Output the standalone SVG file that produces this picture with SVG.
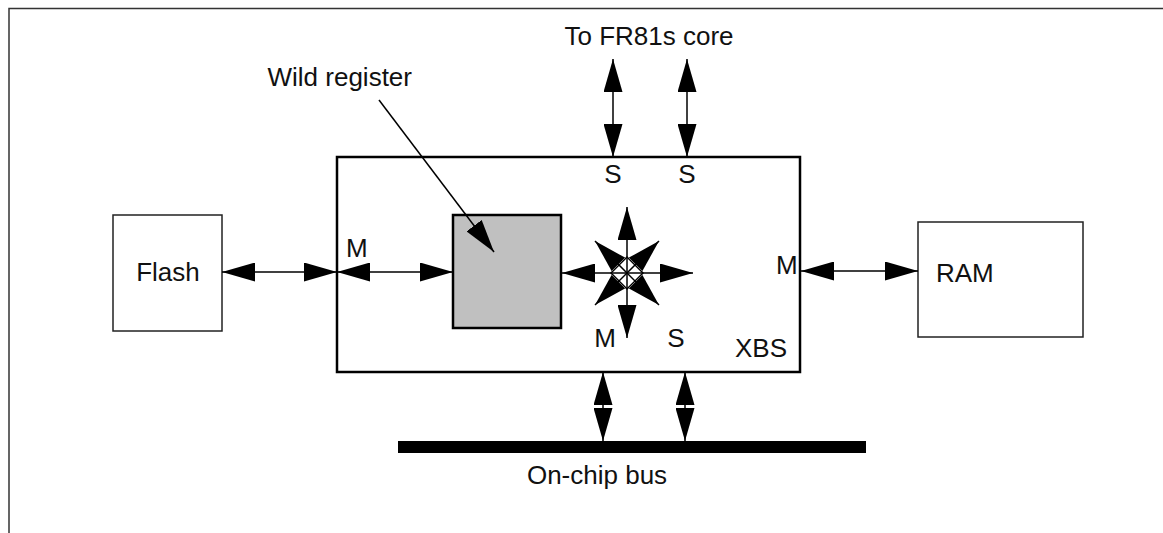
<svg xmlns="http://www.w3.org/2000/svg" width="1163" height="533" viewBox="0 0 1163 533">
<defs>
<marker id="ah" markerUnits="userSpaceOnUse" markerWidth="33" markerHeight="19" refX="33" refY="9.5" orient="auto-start-reverse" viewBox="0 0 33 19">
<path d="M0,0 L33,9.5 L0,19 z" fill="#000"/>
</marker>
</defs>
<style>
text{font-family:"Liberation Sans",Arial,sans-serif;font-size:26px;fill:#111}
.box{fill:#fff;stroke:#222;stroke-width:1.5}
.conn line{stroke:#000;stroke-width:1.5;marker-start:url(#ah);marker-end:url(#ah)}
.conn line.one{marker-start:none}
</style>
<rect width="1163" height="533" fill="#fff"/>
<path id="frame" d="M9,533 V8.5 H1163" fill="none" stroke="#333" stroke-width="1.5"/>

<g id="flash"><rect class="box" x="113" y="215" width="109" height="116"/><text x="168" y="281" text-anchor="middle">Flash</text></g>
<g id="ram"><rect class="box" x="918" y="222" width="165" height="115"/><text x="936" y="282">RAM</text></g>
<g id="xbs"><rect x="337" y="157" width="463" height="215" fill="#fff" stroke="#000" stroke-width="2.5"/>
<text x="735" y="357">XBS</text>
<text x="346" y="257">M</text>
<text x="776" y="274">M</text>
<text x="613" y="183" text-anchor="middle">S</text>
<text x="687" y="183" text-anchor="middle">S</text>
<text x="605" y="347" text-anchor="middle">M</text>
<text x="676" y="347" text-anchor="middle">S</text>
</g>
<g id="wildreg"><rect x="453" y="215" width="108" height="113" fill="#c0c0c0" stroke="#000" stroke-width="2.5"/></g>
<g id="bus"><rect x="398" y="441" width="468" height="12" fill="#000"/><text x="597" y="484" text-anchor="middle">On-chip bus</text></g>
<g id="labels"><text x="412" y="86" text-anchor="end">Wild register</text><text x="649" y="45" text-anchor="middle">To FR81s core</text></g>
<g id="hub"><polygon points="611,273 627,257 643,273 627,289" fill="#fff" stroke="#000" stroke-width="1.5"/></g>

<g class="conn" id="connectors">
<line x1="222" y1="272" x2="337" y2="272"/>
<line x1="337" y1="272" x2="453" y2="272"/>
<line x1="801" y1="271" x2="918" y2="271"/>
<line x1="613" y1="59" x2="613" y2="157"/>
<line x1="687" y1="59" x2="687" y2="157"/>
<line x1="603" y1="372" x2="603" y2="441"/>
<line x1="685" y1="372" x2="685" y2="441"/>
<line class="one" x1="379" y1="100" x2="494" y2="252"/>
<line class="one" x1="627" y1="273" x2="562" y2="273"/>
<line class="one" x1="627" y1="273" x2="693" y2="273"/>
<line class="one" x1="627" y1="273" x2="627" y2="207"/>
<line class="one" x1="627" y1="273" x2="627" y2="338"/>
<line class="one" x1="627" y1="273" x2="595" y2="241"/>
<line class="one" x1="627" y1="273" x2="659" y2="241"/>
<line class="one" x1="627" y1="273" x2="595" y2="305"/>
<line class="one" x1="627" y1="273" x2="659" y2="305"/>
</g>
</svg>
